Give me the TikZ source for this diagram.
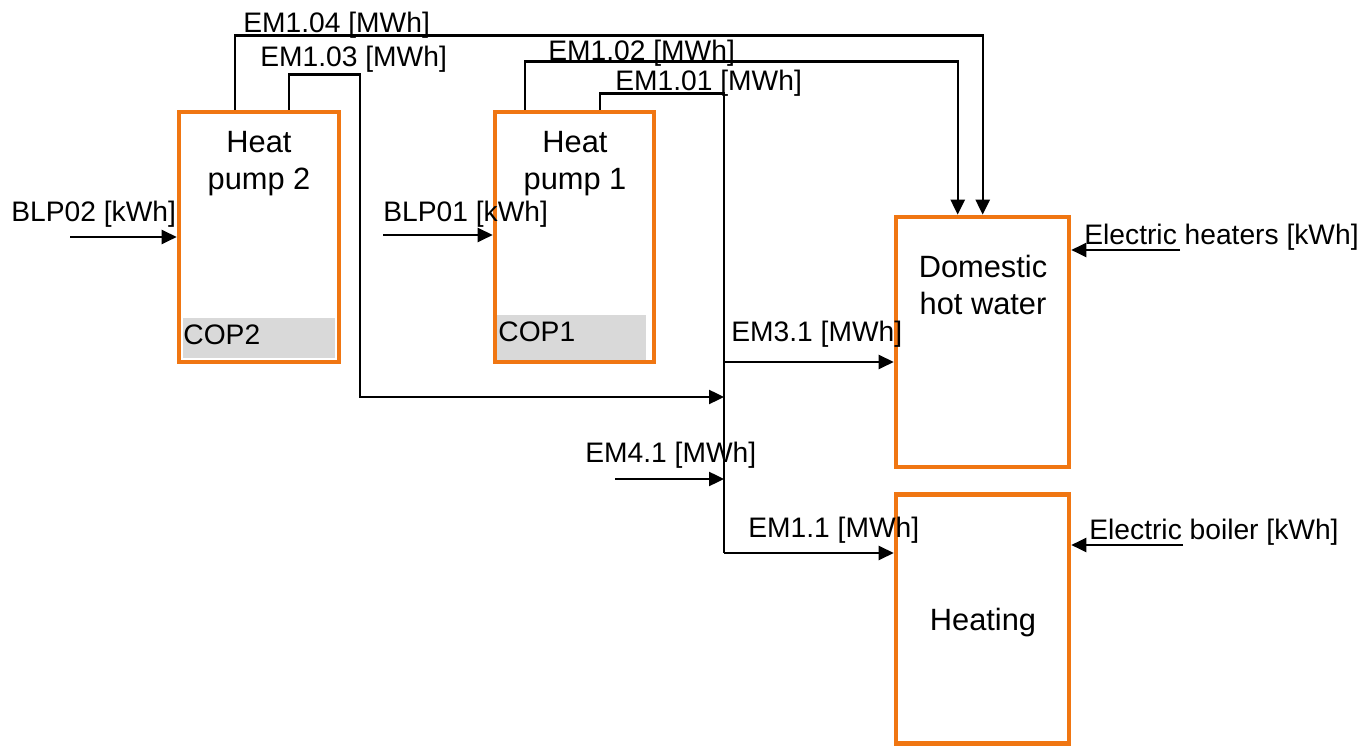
\documentclass[tikz,border=0pt]{standalone}
\usepackage{fontspec}
\setmainfont{Liberation Sans}
\usetikzlibrary{arrows.meta,calc}
\definecolor{boxorange}{RGB}{240,118,18}
\definecolor{copgray}{RGB}{217,217,217}
\begin{document}
\begin{tikzpicture}[x=0.5pt,y=-0.5pt,
  box/.style={draw=boxorange,line width=2.3pt,inner sep=0pt,fill=white},
  copbg/.style={fill=copgray,draw=none,inner sep=0pt},
  lbl/.style={font=\fontsize{14.1pt}{17pt}\selectfont,inner sep=0pt,anchor=base west},
  ttl/.style={font=\fontsize{15.4pt}{18pt}\selectfont,inner sep=0pt,anchor=base},
  ln/.style={draw=black,line width=1.2pt},
  arr/.style={ln,-{Triangle[length=7.5pt,width=7pt]}}]
\useasboundingbox (0,0) rectangle (1369,747);

% boxes
\node[box,minimum width=80pt,minimum height=125pt] (hp2) at (259,237) {};
\node[box,minimum width=79.5pt,minimum height=125pt] (hp1) at (574.5,237) {};
\node[box,minimum width=86.5pt,minimum height=125pt] (dhw) at (982.5,342) {};
\node[box,minimum width=86.5pt,minimum height=124.5pt] (heat) at (982.5,619) {};

% COP areas
\node[copbg,minimum width=76pt,minimum height=20pt] (cop2bg) at (259,338) {};
\node[copbg,minimum width=74.5pt,minimum height=22.5pt] (cop1bg) at (571.5,337.5) {};
\node[lbl] (cop2) at (183,345) {COP2};
\node[lbl] (cop1) at (498,342) {COP1};

% titles
\node[ttl] (hp2a) at (259,153) {Heat};
\node[ttl] (hp2b) at (259,190) {pump 2};
\node[ttl] (hp1a) at (575,153) {Heat};
\node[ttl] (hp1b) at (575,190) {pump 1};
\node[ttl] (dhwa) at (983,278) {Domestic};
\node[ttl] (dhwb) at (983,315) {hot water};
\node[ttl] (heata) at (983,630) {Heating};

% coordinates
\coordinate (busb) at (724,553);
\coordinate (j13) at (724,397);
\coordinate (j31) at (724,362);
\coordinate (j41) at (724,479);
\coordinate (s41) at (615,479);
\coordinate (sb2) at (70,237);
\coordinate (sb1) at (383,235);
\coordinate (seh) at (1180,250);
\coordinate (seb) at (1183,545);

% connectors
\draw[arr] ([xshift=29pt]hp2.north west) -- ++(0,-74) -| ([xshift=44.5pt]dhw.north west);
\draw[arr] ([xshift=56pt]hp2.north west) -- ++(0,-35) -- ++(71,0) |- (j13);
\draw[arr] ([xshift=16pt]hp1.north west) -- ++(0,-48) -| ([xshift=32pt]dhw.north west);
\draw[ln] ([xshift=53.5pt]hp1.north west) -- ++(0,-16) -| (busb);
\draw[arr] (busb) -- (heat.west |- busb);
\draw[arr] (j31) -- (dhw.west |- j31);
\draw[arr] (s41) -- (j41);
\draw[arr] (sb2) -- (hp2.west |- sb2);
\draw[arr] (sb1) -- (hp1.west |- sb1);
\draw[arr] (seh) -- (dhw.east |- seh);
\draw[arr] (seb) -- (heat.east |- seb);

% labels
\node[lbl] (l104) at (243,33) {EM1.04 [MWh]};
\node[lbl] (l103) at (260,67) {EM1.03 [MWh]};
\node[lbl] (l102) at (548,61) {EM1.02 [MWh]};
\node[lbl] (l101) at (615,91) {EM1.01 [MWh]};
\node[lbl] (lb2) at (11,222) {BLP02 [kWh]};
\node[lbl] (lb1) at (383,222) {BLP01 [kWh]};
\node[lbl] (l31) at (731,342) {EM3.1 [MWh]};
\node[lbl] (l41) at (585,463) {EM4.1 [MWh]};
\node[lbl] (l11) at (748,538) {EM1.1 [MWh]};
\node[lbl] (leh) at (1084,245) {Electric heaters [kWh]};
\node[lbl] (leb) at (1089,540) {Electric boiler [kWh]};
\end{tikzpicture}
\end{document}
